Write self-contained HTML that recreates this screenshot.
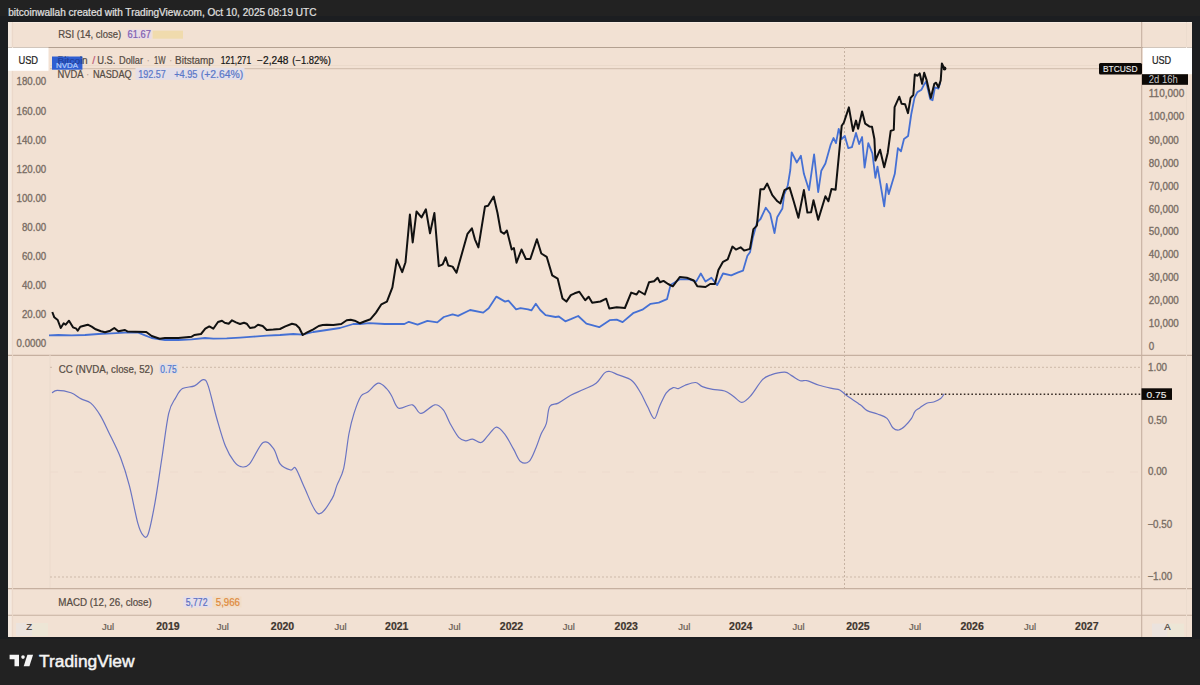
<!DOCTYPE html>
<html><head><meta charset="utf-8"><style>
html,body{margin:0;padding:0;background:#222222;width:1200px;height:685px;overflow:hidden}
svg{display:block;font-family:"Liberation Sans",sans-serif}
</style></head><body>
<svg width="1200" height="685" viewBox="0 0 1200 685">
<rect width="1200" height="685" fill="#222222"/>
<rect x="0" y="16" width="1200" height="623" fill="#1c1e21"/>
<text x="8.2" y="15.6" font-size="10" fill="#e0e0e0" font-weight="normal" textLength="308.3" lengthAdjust="spacingAndGlyphs" xml:space="preserve" stroke="#e0e0e0" stroke-width="0.22">bitcoinwallah created with TradingView.com, Oct 10, 2025 08:19 UTC</text>
<rect x="8" y="22" width="1184" height="615" fill="#f2e1d3"/>
<line x1="8" y1="22.5" x2="1192" y2="22.5" stroke="#f7ebe1" stroke-width="1"/>
<rect x="8" y="22" width="3.5" height="615" fill="#f4e9e0"/>
<line x1="8" y1="47.5" x2="1192" y2="47.5" stroke="#b3a090" stroke-width="1.1"/>
<line x1="8" y1="355.4" x2="1192" y2="355.4" stroke="#c6b0a0" stroke-width="1.1"/>
<line x1="8" y1="588.6" x2="1192" y2="588.6" stroke="#c6b0a0" stroke-width="1.1"/>
<line x1="8" y1="615.3" x2="1192" y2="615.3" stroke="#c6b0a0" stroke-width="1.1"/>
<line x1="1141.7" y1="22" x2="1141.7" y2="637" stroke="#c6b0a0" stroke-width="1.1"/>
<line x1="50" y1="355" x2="50" y2="588" stroke="#ebdacc" stroke-width="1"/>
<line x1="12.6" y1="22" x2="12.6" y2="637" stroke="#ead8c9" stroke-width="1"/>
<line x1="1186.5" y1="22" x2="1186.5" y2="637" stroke="#ecdcce" stroke-width="1"/>
<line x1="50" y1="367.3" x2="1142" y2="367.3" stroke="#cdb9a9" stroke-width="1" stroke-dasharray="2,2"/>
<line x1="50" y1="577" x2="1142" y2="577" stroke="#cdb9a9" stroke-width="1" stroke-dasharray="2,2"/>
<line x1="50" y1="472" x2="1142" y2="472" stroke="#eddacd" stroke-width="1" stroke-dasharray="8,16"/>
<line x1="50" y1="68.6" x2="1142" y2="68.6" stroke="#d5c2b2" stroke-width="1.1"/>
<line x1="50" y1="65.5" x2="1142" y2="65.5" stroke="#ebdacb" stroke-width="1"/>
<line x1="844.5" y1="47" x2="844.5" y2="588" stroke="#c6b2a2" stroke-width="1" stroke-dasharray="2,2"/>
<line x1="846" y1="394.3" x2="1142" y2="394.3" stroke="#3a2f28" stroke-width="1.4" stroke-dasharray="1.6,2.2"/>
<polyline points="49.0,335.3 58.3,335.0 71.7,335.3 85.0,335.0 98.3,334.0 111.7,333.3 125.0,332.7 138.3,332.7 145.0,335.3 151.7,338.0 165.0,340.0 178.3,340.0 191.7,339.3 205.0,338.0 213.3,338.7 226.7,338.4 240.0,337.6 253.3,336.7 266.7,335.7 280.0,335.0 293.3,334.0 302.7,334.7 313.3,332.0 326.7,330.0 340.0,328.0 353.3,324.0 360.0,324.0 369.4,323.1 384.7,324.0 404.4,324.0 408.8,321.8 417.6,324.6 427.4,320.9 437.3,322.4 443.8,317.0 452.6,314.3 458.1,315.9 470.1,310.0 483.2,312.6 488.7,308.2 496.4,296.6 505.1,301.6 508.4,300.6 516.1,309.3 520.5,308.2 528.1,309.3 531.4,310.4 535.8,303.8 540.2,310.0 545.6,315.2 555.5,317.0 558.8,316.5 565.3,321.3 570.8,319.2 578.2,316.0 586.4,323.7 599.2,327.2 609.7,320.2 616.7,319.7 622.6,322.1 633.1,313.2 642.4,309.7 650.6,303.8 658.8,302.7 667.0,299.2 670.5,285.1 679.8,279.3 689.2,279.3 696.2,281.6 700.8,273.5 705.5,281.6 711.4,277.7 717.2,285.1 723.0,273.5 731.2,275.3 738.2,272.3 743.0,270.7 747.4,255.8 750.0,252.3 752.7,238.3 757.0,222.5 760.5,219.0 765.8,207.7 770.2,213.8 774.5,233.0 777.2,217.3 782.4,208.5 784.2,194.5 787.7,185.8 790.3,170.0 791.7,152.3 796.8,162.5 800.9,155.8 803.9,173.8 809.0,190.1 814.1,154.4 818.2,192.1 821.3,170.7 825.4,163.5 830.5,145.2 833.5,138.0 836.0,143.1 838.7,128.8 841.7,139.0 844.8,136.0 848.3,148.2 851.9,147.2 856.0,132.9 859.1,144.1 862.1,137.0 864.6,167.6 868.3,143.1 872.4,153.3 875.4,177.8 877.5,166.6 884.2,206.4 886.7,184.0 888.7,194.2 894.8,173.8 897.9,148.2 901.0,151.3 904.0,139.0 908.1,136.0 911.2,114.5 914.5,97.9 917.4,92.1 921.5,89.7 923.8,85.0 926.1,81.5 930.2,99.1 932.6,100.2 934.9,87.4 938.4,88.6 940.2,82.7" fill="none" stroke="#4570d4" stroke-width="1.8" stroke-linejoin="round"/>
<polyline points="52.3,312.0 54.3,317.3 57.7,320.0 60.7,328.0 63.7,323.3 65.7,324.7 69.0,320.7 73.0,327.3 76.3,328.7 77.7,330.7 80.3,326.7 87.7,324.7 91.7,326.7 95.7,329.3 101.0,331.3 105.0,332.3 110.3,330.7 114.3,328.0 118.3,331.3 125.0,330.0 127.7,331.6 135.7,331.7 146.3,332.0 151.7,336.0 159.7,338.7 165.0,338.0 178.3,338.0 191.7,336.7 194.3,335.0 201.0,334.0 205.3,328.7 209.3,326.4 213.3,328.7 218.0,322.0 222.0,320.7 224.7,322.7 228.7,323.7 232.0,320.3 236.0,322.4 240.0,324.0 244.0,322.7 246.7,323.7 250.0,328.0 254.7,327.3 258.0,324.7 262.7,326.0 266.7,330.0 273.3,329.6 280.0,329.0 285.3,326.4 292.0,323.7 296.0,324.7 299.3,328.0 302.7,335.0 306.7,332.7 313.3,329.3 318.7,326.0 322.7,325.0 326.7,324.7 333.3,325.0 341.3,324.0 346.7,320.3 350.7,319.7 354.7,320.7 360.0,323.3 365.0,321.3 370.5,319.2 376.0,312.6 381.4,304.3 386.9,301.6 392.4,287.4 396.8,259.6 402.2,272.1 405.5,262.2 409.9,214.5 412.7,242.5 416.5,211.5 421.5,217.4 425.9,209.3 430.0,233.3 434.4,213.0 438.8,266.2 442.7,264.4 445.6,257.4 448.2,265.5 452.6,266.6 456.5,272.7 461.3,255.7 467.5,233.8 471.9,228.3 474.9,239.3 478.4,247.4 485.0,206.4 488.1,205.8 493.7,196.6 497.5,213.0 500.8,231.6 504.0,233.8 506.9,230.5 511.7,249.5 513.9,248.0 516.5,262.7 521.5,249.5 525.9,259.0 530.3,259.0 536.9,239.3 541.3,253.5 546.7,256.8 552.2,275.4 557.7,278.7 562.5,298.4 566.4,301.6 570.8,295.1 574.7,293.3 579.3,291.7 585.2,300.3 588.7,296.8 592.2,302.7 600.4,301.5 606.2,298.7 609.3,308.5 616.7,307.3 624.9,308.0 631.2,292.6 636.6,294.5 638.9,291.0 644.8,294.5 649.0,282.3 654.1,281.2 657.6,277.7 660.0,282.3 663.5,280.9 668.1,284.0 672.8,286.3 679.8,277.0 686.8,277.7 693.8,280.5 697.3,286.3 705.5,287.0 710.2,284.0 714.9,284.0 718.4,270.0 723.0,261.8 727.7,259.4 732.4,246.6 735.9,249.6 740.6,247.3 744.1,250.6 749.9,248.9 753.4,229.1 756.9,225.6 760.4,189.3 763.9,189.3 767.2,183.6 772.3,195.2 777.4,201.3 780.4,203.4 784.5,190.1 789.6,187.6 793.7,201.3 798.4,217.7 803.9,190.1 807.4,212.6 811.1,212.2 813.5,200.3 818.2,219.7 825.4,196.2 828.4,201.3 831.5,189.1 835.6,189.7 838.7,157.4 841.7,125.8 843.8,122.7 848.9,107.4 853.0,130.9 856.0,120.6 858.1,128.8 862.1,111.5 865.2,123.7 869.3,126.4 872.0,126.8 874.4,139.0 875.4,160.5 880.1,149.7 884.2,167.2 887.7,152.9 890.7,130.9 893.8,129.8 894.6,107.2 899.3,96.7 901.6,103.7 905.1,104.3 908.0,113.1 910.6,97.9 913.3,95.0 914.8,74.5 917.4,75.7 919.7,73.4 922.1,83.9 924.2,72.8 926.7,80.4 930.8,97.9 934.3,83.9 936.1,82.7 938.4,87.4 940.7,80.4 941.9,63.4 943.7,67.5 945.4,68.1" fill="none" stroke="#111" stroke-width="2" stroke-linejoin="round"/>
<path d="M52.0,392.8 C52.9,392.4 54.1,390.4 57.2,390.4 C60.4,390.4 66.9,391.4 70.9,392.8 C74.9,394.2 77.9,397.2 81.2,398.9 C84.5,400.6 87.7,400.4 90.8,403.1 C93.9,405.8 97.1,410.2 100.1,415.1 C103.1,420.0 105.3,425.1 108.7,432.2 C112.1,439.3 117.3,449.1 120.7,458.0 C124.1,466.9 126.5,474.5 129.3,485.4 C132.2,496.3 135.5,514.9 137.8,523.2 C140.1,531.5 141.3,533.4 143.0,535.2 C144.7,537.0 146.1,539.6 148.1,534.2 C150.1,528.8 152.7,515.3 155.0,502.6 C157.3,489.9 159.6,472.9 161.9,458.0 C164.2,443.1 166.4,423.4 168.7,413.4 C171.0,403.4 173.3,402.0 175.6,397.9 C177.9,393.8 179.3,390.6 182.5,388.6 C185.7,386.6 191.1,387.4 194.5,385.9 C197.9,384.4 200.8,379.7 203.1,379.7 C205.4,379.7 205.9,379.4 208.2,385.9 C210.5,392.4 213.9,408.5 216.8,418.5 C219.7,428.5 222.5,438.9 225.4,446.0 C228.3,453.1 231.4,458.0 234.0,461.4 C236.6,464.8 238.2,466.1 240.8,466.6 C243.4,467.1 245.7,468.2 249.4,464.2 C253.1,460.2 259.1,445.1 263.1,442.5 C267.1,439.9 270.5,444.8 273.4,448.4 C276.3,452.0 277.4,460.6 280.3,464.2 C283.2,467.8 288.0,469.3 290.6,470.0 C293.2,470.7 293.4,465.4 295.7,468.3 C298.0,471.2 300.6,479.6 304.3,487.2 C308.0,494.8 313.5,511.6 318.1,513.6 C322.7,515.6 328.7,503.9 331.8,499.2 C334.9,494.5 334.9,490.5 336.9,485.4 C338.9,480.2 341.7,476.9 343.7,468.3 C345.7,459.7 347.2,443.1 348.9,434.0 C350.6,424.9 352.0,419.7 354.0,413.4 C356.0,407.1 358.6,399.8 360.9,396.2 C363.2,392.6 364.9,394.3 367.8,392.1 C370.7,389.9 375.0,383.8 378.1,383.2 C381.2,382.6 384.3,386.4 386.6,388.6 C388.9,390.8 389.8,392.9 391.8,396.2 C393.8,399.5 395.3,406.8 398.7,408.2 C402.1,409.6 408.7,403.9 412.4,404.8 C416.1,405.7 417.3,413.4 421.0,413.4 C424.7,413.4 431.0,405.4 434.7,404.8 C438.4,404.2 440.7,406.8 443.3,409.9 C445.9,413.0 447.6,419.1 450.2,423.7 C452.8,428.3 456.1,434.5 458.7,437.4 C461.3,440.2 463.3,440.5 465.6,440.8 C467.9,441.1 469.9,438.8 472.5,439.1 C475.1,439.4 478.4,443.1 481.0,442.5 C483.6,441.9 485.3,438.3 487.9,435.7 C490.5,433.1 493.6,427.3 496.5,427.1 C499.4,426.9 502.2,430.9 505.1,434.6 C508.0,438.3 511.1,444.9 513.7,449.4 C516.3,453.9 517.9,459.4 520.5,461.4 C523.1,463.4 526.5,463.7 529.1,461.4 C531.7,459.1 534.0,452.3 536.0,447.7 C538.0,443.1 539.4,438.0 541.1,434.0 C542.8,430.0 544.9,428.3 546.3,423.7 C547.7,419.1 547.7,409.9 549.7,406.5 C551.7,403.1 554.9,404.9 558.3,403.1 C561.7,401.3 566.0,397.8 570.3,395.5 C574.6,393.2 579.7,391.4 584.0,389.3 C588.3,387.2 592.7,385.9 596.1,383.2 C599.5,380.5 602.3,374.8 604.6,372.9 C606.9,370.9 607.5,371.2 609.8,371.5 C612.1,371.8 614.7,373.4 618.4,374.9 C622.1,376.4 628.3,377.7 632.0,380.7 C635.7,383.7 638.0,388.5 640.6,392.8 C643.2,397.1 645.2,402.2 647.5,406.5 C649.8,410.8 652.3,418.5 654.3,418.5 C656.3,418.5 657.5,410.8 659.5,406.5 C661.5,402.2 664.0,395.9 666.3,392.8 C668.6,389.7 671.2,388.3 673.2,387.6 C675.2,386.9 676.4,389.0 678.4,388.6 C680.4,388.2 682.4,386.2 685.2,385.2 C688.1,384.2 692.6,382.3 695.5,382.5 C698.4,382.7 699.5,385.5 702.4,386.6 C705.3,387.7 709.0,388.6 712.7,389.3 C716.4,390.0 721.3,389.9 724.7,391.0 C728.1,392.1 730.4,394.3 733.3,396.2 C736.2,398.1 739.0,402.4 741.9,402.4 C744.8,402.4 747.0,400.0 750.4,396.2 C753.8,392.4 759.1,383.2 762.5,379.7 C765.9,376.1 767.3,376.1 771.0,374.9 C774.7,373.6 781.4,372.1 784.8,372.2 C788.2,372.3 789.0,374.2 791.6,375.6 C794.2,377.0 797.6,379.9 800.2,380.7 C802.8,381.5 804.0,379.9 807.1,380.7 C810.2,381.4 814.8,383.9 819.1,385.2 C823.4,386.5 829.4,387.8 832.8,388.6 C836.2,389.4 837.4,388.9 839.7,390.0 C842.0,391.1 843.2,393.0 846.6,395.5 C850.0,398.0 856.9,402.3 860.3,404.8 C863.7,407.3 864.3,409.1 867.2,410.6 C870.1,412.1 874.2,412.7 877.5,414.0 C880.8,415.3 884.5,416.1 887.0,418.4 C889.5,420.7 890.8,425.8 892.8,427.7 C894.8,429.6 896.8,430.2 898.7,430.0 C900.7,429.8 902.4,428.4 904.5,426.5 C906.6,424.6 909.8,420.9 911.5,418.4 C913.2,415.9 913.6,413.1 915.0,411.4 C916.4,409.6 917.8,409.3 919.7,407.9 C921.7,406.5 924.4,404.2 926.7,403.2 C929.0,402.2 931.4,402.8 933.7,402.0 C936.0,401.2 939.0,399.9 940.7,398.5 C942.5,397.1 943.6,394.7 944.2,393.9" fill="none" stroke="#6a74c2" stroke-width="1.2"/>
<circle cx="944.5" cy="68.5" r="1.9" fill="#111"/>
<text x="1148.8" y="97.0" font-size="10.3" fill="#786c63" font-weight="normal" textLength="35.44" lengthAdjust="spacingAndGlyphs" xml:space="preserve" stroke="#786c63" stroke-width="0.32">110,000</text>
<text x="1148.8" y="120.4" font-size="10.3" fill="#786c63" font-weight="normal" textLength="35.44" lengthAdjust="spacingAndGlyphs" xml:space="preserve" stroke="#786c63" stroke-width="0.32">100,000</text>
<text x="1148.8" y="143.79999999999998" font-size="10.3" fill="#786c63" font-weight="normal" textLength="29.99" lengthAdjust="spacingAndGlyphs" xml:space="preserve" stroke="#786c63" stroke-width="0.32">90,000</text>
<text x="1148.8" y="166.79999999999998" font-size="10.3" fill="#786c63" font-weight="normal" textLength="29.99" lengthAdjust="spacingAndGlyphs" xml:space="preserve" stroke="#786c63" stroke-width="0.32">80,000</text>
<text x="1148.8" y="189.7" font-size="10.3" fill="#786c63" font-weight="normal" textLength="29.99" lengthAdjust="spacingAndGlyphs" xml:space="preserve" stroke="#786c63" stroke-width="0.32">70,000</text>
<text x="1148.8" y="212.5" font-size="10.3" fill="#786c63" font-weight="normal" textLength="29.99" lengthAdjust="spacingAndGlyphs" xml:space="preserve" stroke="#786c63" stroke-width="0.32">60,000</text>
<text x="1148.8" y="235.39999999999998" font-size="10.3" fill="#786c63" font-weight="normal" textLength="29.99" lengthAdjust="spacingAndGlyphs" xml:space="preserve" stroke="#786c63" stroke-width="0.32">50,000</text>
<text x="1148.8" y="258.2" font-size="10.3" fill="#786c63" font-weight="normal" textLength="29.99" lengthAdjust="spacingAndGlyphs" xml:space="preserve" stroke="#786c63" stroke-width="0.32">40,000</text>
<text x="1148.8" y="281.2" font-size="10.3" fill="#786c63" font-weight="normal" textLength="29.99" lengthAdjust="spacingAndGlyphs" xml:space="preserve" stroke="#786c63" stroke-width="0.32">30,000</text>
<text x="1148.8" y="304.2" font-size="10.3" fill="#786c63" font-weight="normal" textLength="29.99" lengthAdjust="spacingAndGlyphs" xml:space="preserve" stroke="#786c63" stroke-width="0.32">20,000</text>
<text x="1148.8" y="327.2" font-size="10.3" fill="#786c63" font-weight="normal" textLength="29.99" lengthAdjust="spacingAndGlyphs" xml:space="preserve" stroke="#786c63" stroke-width="0.32">10,000</text>
<text x="1148.8" y="350.2" font-size="10.3" fill="#786c63" font-weight="normal" textLength="5.45" lengthAdjust="spacingAndGlyphs" xml:space="preserve" stroke="#786c63" stroke-width="0.32">0</text>
<text x="16.59" y="85.39999999999999" font-size="10.3" fill="#786c63" font-weight="normal" textLength="29.61" lengthAdjust="spacingAndGlyphs" xml:space="preserve" stroke="#786c63" stroke-width="0.32">180.00</text>
<text x="16.59" y="114.5" font-size="10.3" fill="#786c63" font-weight="normal" textLength="29.61" lengthAdjust="spacingAndGlyphs" xml:space="preserve" stroke="#786c63" stroke-width="0.32">160.00</text>
<text x="16.59" y="143.6" font-size="10.3" fill="#786c63" font-weight="normal" textLength="29.61" lengthAdjust="spacingAndGlyphs" xml:space="preserve" stroke="#786c63" stroke-width="0.32">140.00</text>
<text x="16.59" y="172.7" font-size="10.3" fill="#786c63" font-weight="normal" textLength="29.61" lengthAdjust="spacingAndGlyphs" xml:space="preserve" stroke="#786c63" stroke-width="0.32">120.00</text>
<text x="16.59" y="201.79999999999998" font-size="10.3" fill="#786c63" font-weight="normal" textLength="29.61" lengthAdjust="spacingAndGlyphs" xml:space="preserve" stroke="#786c63" stroke-width="0.32">100.00</text>
<text x="21.98" y="230.9" font-size="10.3" fill="#786c63" font-weight="normal" textLength="24.22" lengthAdjust="spacingAndGlyphs" xml:space="preserve" stroke="#786c63" stroke-width="0.32">80.00</text>
<text x="21.98" y="260.0" font-size="10.3" fill="#786c63" font-weight="normal" textLength="24.22" lengthAdjust="spacingAndGlyphs" xml:space="preserve" stroke="#786c63" stroke-width="0.32">60.00</text>
<text x="21.98" y="289.1" font-size="10.3" fill="#786c63" font-weight="normal" textLength="24.22" lengthAdjust="spacingAndGlyphs" xml:space="preserve" stroke="#786c63" stroke-width="0.32">40.00</text>
<text x="21.98" y="318.20000000000005" font-size="10.3" fill="#786c63" font-weight="normal" textLength="24.22" lengthAdjust="spacingAndGlyphs" xml:space="preserve" stroke="#786c63" stroke-width="0.32">20.00</text>
<text x="16.59" y="347.40000000000003" font-size="10.3" fill="#786c63" font-weight="normal" textLength="29.61" lengthAdjust="spacingAndGlyphs" xml:space="preserve" stroke="#786c63" stroke-width="0.32">0.0000</text>
<text x="1148" y="370.90000000000003" font-size="10.3" fill="#786c63" font-weight="normal" textLength="19.08" lengthAdjust="spacingAndGlyphs" xml:space="preserve" stroke="#786c63" stroke-width="0.32">1.00</text>
<text x="1148" y="423.6" font-size="10.3" fill="#786c63" font-weight="normal" textLength="19.08" lengthAdjust="spacingAndGlyphs" xml:space="preserve" stroke="#786c63" stroke-width="0.32">0.50</text>
<text x="1148" y="475.40000000000003" font-size="10.3" fill="#786c63" font-weight="normal" textLength="19.08" lengthAdjust="spacingAndGlyphs" xml:space="preserve" stroke="#786c63" stroke-width="0.32">0.00</text>
<text x="1147.4" y="527.9" font-size="10.3" fill="#786c63" font-weight="normal" textLength="24.81" lengthAdjust="spacingAndGlyphs" xml:space="preserve" stroke="#786c63" stroke-width="0.32">−0.50</text>
<text x="1147.4" y="580.4" font-size="10.3" fill="#786c63" font-weight="normal" textLength="24.81" lengthAdjust="spacingAndGlyphs" xml:space="preserve" stroke="#786c63" stroke-width="0.32">−1.00</text>
<text x="108.1" y="629.7" font-size="9.5" fill="#6a5e55" font-weight="normal" text-anchor="middle"  stroke="#6a5e55" stroke-width="0.22">Jul</text>
<text x="167.9" y="630.1" font-size="10.5" fill="#3e352e" font-weight="bold" text-anchor="middle"  stroke="#3e352e" stroke-width="0.22">2019</text>
<text x="222.9" y="629.7" font-size="9.5" fill="#6a5e55" font-weight="normal" text-anchor="middle"  stroke="#6a5e55" stroke-width="0.22">Jul</text>
<text x="282.5" y="630.1" font-size="10.5" fill="#3e352e" font-weight="bold" text-anchor="middle"  stroke="#3e352e" stroke-width="0.22">2020</text>
<text x="340.6" y="629.7" font-size="9.5" fill="#6a5e55" font-weight="normal" text-anchor="middle"  stroke="#6a5e55" stroke-width="0.22">Jul</text>
<text x="396.75" y="630.1" font-size="10.5" fill="#3e352e" font-weight="bold" text-anchor="middle"  stroke="#3e352e" stroke-width="0.22">2021</text>
<text x="454.6" y="629.7" font-size="9.5" fill="#6a5e55" font-weight="normal" text-anchor="middle"  stroke="#6a5e55" stroke-width="0.22">Jul</text>
<text x="511.5" y="630.1" font-size="10.5" fill="#3e352e" font-weight="bold" text-anchor="middle"  stroke="#3e352e" stroke-width="0.22">2022</text>
<text x="568.75" y="629.7" font-size="9.5" fill="#6a5e55" font-weight="normal" text-anchor="middle"  stroke="#6a5e55" stroke-width="0.22">Jul</text>
<text x="626.25" y="630.1" font-size="10.5" fill="#3e352e" font-weight="bold" text-anchor="middle"  stroke="#3e352e" stroke-width="0.22">2023</text>
<text x="684.4" y="629.7" font-size="9.5" fill="#6a5e55" font-weight="normal" text-anchor="middle"  stroke="#6a5e55" stroke-width="0.22">Jul</text>
<text x="740.75" y="630.1" font-size="10.5" fill="#3e352e" font-weight="bold" text-anchor="middle"  stroke="#3e352e" stroke-width="0.22">2024</text>
<text x="798.5" y="629.7" font-size="9.5" fill="#6a5e55" font-weight="normal" text-anchor="middle"  stroke="#6a5e55" stroke-width="0.22">Jul</text>
<text x="857.9" y="630.1" font-size="10.5" fill="#3e352e" font-weight="bold" text-anchor="middle"  stroke="#3e352e" stroke-width="0.22">2025</text>
<text x="915" y="629.7" font-size="9.5" fill="#6a5e55" font-weight="normal" text-anchor="middle"  stroke="#6a5e55" stroke-width="0.22">Jul</text>
<text x="972.1" y="630.1" font-size="10.5" fill="#3e352e" font-weight="bold" text-anchor="middle"  stroke="#3e352e" stroke-width="0.22">2026</text>
<text x="1030" y="629.7" font-size="9.5" fill="#6a5e55" font-weight="normal" text-anchor="middle"  stroke="#6a5e55" stroke-width="0.22">Jul</text>
<text x="1086.8" y="630.1" font-size="10.5" fill="#3e352e" font-weight="bold" text-anchor="middle"  stroke="#3e352e" stroke-width="0.22">2027</text>
<rect x="16" y="623" width="16" height="13" fill="#ebe3de"/>
<rect x="32" y="623" width="16" height="13" fill="#ede6d6"/>
<text x="29.2" y="630" font-size="9.5" fill="#4a4038" font-weight="normal" text-anchor="middle"  stroke="#4a4038" stroke-width="0.22">Z</text>
<rect x="1152" y="623.6" width="15.5" height="13.2" fill="#ebe3de"/>
<rect x="1167.5" y="623.6" width="16.5" height="13.2" fill="#ede6d6"/>
<text x="1167.5" y="630" font-size="9.5" fill="#4a4038" font-weight="normal" text-anchor="middle"  stroke="#4a4038" stroke-width="0.22">A</text>
<rect x="8" y="47.6" width="40.5" height="23.2" fill="#ffffff"/>
<text x="18.4" y="64.4" font-size="10.8" fill="#1e1e1e" font-weight="normal" textLength="19.7" lengthAdjust="spacingAndGlyphs" xml:space="preserve" stroke="#1e1e1e" stroke-width="0.22">USD</text>
<rect x="1142.8" y="47.6" width="49.2" height="26.6" fill="#ffffff"/>
<text x="1151.9" y="64.4" font-size="10.8" fill="#1e1e1e" font-weight="normal" textLength="19.3" lengthAdjust="spacingAndGlyphs" xml:space="preserve" stroke="#1e1e1e" stroke-width="0.22">USD</text>
<rect x="1142" y="74.2" width="46" height="10.6" fill="#0d0906"/>
<text x="1148.8" y="82.6" font-size="10" fill="#c8c8c8" font-weight="normal" textLength="29" lengthAdjust="spacingAndGlyphs" xml:space="preserve">2d 16h</text>
<rect x="1099" y="63" width="43" height="11.4" rx="1.5" fill="#0d0906"/>
<text x="1103" y="71.8" font-size="9.4" fill="#f0f0f0" font-weight="normal" textLength="34.5" lengthAdjust="spacingAndGlyphs" xml:space="preserve" stroke="#f0f0f0" stroke-width="0.1">BTCUSD</text>
<rect x="1141.5" y="388.3" width="30.5" height="11.6" fill="#0d0906"/>
<text x="1146.5" y="397.8" font-size="9.8" fill="#f0f0f0" font-weight="normal" textLength="20" lengthAdjust="spacingAndGlyphs" xml:space="preserve" stroke="#f0f0f0" stroke-width="0.1">0.75</text>
<text x="58.2" y="38.2" font-size="10" fill="#564c44" font-weight="normal" textLength="63" lengthAdjust="spacingAndGlyphs" xml:space="preserve" stroke="#564c44" stroke-width="0.22">RSI (14, close)</text>
<rect x="127" y="29.5" width="24.5" height="9.5" fill="#eadce4"/>
<text x="127.6" y="38.2" font-size="10" fill="#8160b0" font-weight="normal" textLength="23.4" lengthAdjust="spacingAndGlyphs" xml:space="preserve" stroke="#8160b0" stroke-width="0.22">61.67</text>
<rect x="152.7" y="30.7" width="30.3" height="8" fill="#efd9a4" opacity="0.8"/>
<text x="57.5" y="63.9" font-size="10" fill="#564c44" font-weight="normal" textLength="30" lengthAdjust="spacingAndGlyphs" xml:space="preserve" stroke="#564c44" stroke-width="0.22">Bitcoin</text>
<text x="92.2" y="63.9" font-size="10" fill="#c0607a" font-weight="normal" textLength="3" lengthAdjust="spacingAndGlyphs" xml:space="preserve" stroke="#c0607a" stroke-width="0.22">/</text>
<text x="97.2" y="63.9" font-size="10" fill="#564c44" font-weight="normal" textLength="18.2" lengthAdjust="spacingAndGlyphs" xml:space="preserve" stroke="#564c44" stroke-width="0.22">U.S.</text>
<text x="119" y="63.9" font-size="10" fill="#564c44" font-weight="normal" textLength="24" lengthAdjust="spacingAndGlyphs" xml:space="preserve" stroke="#564c44" stroke-width="0.22">Dollar</text>
<text x="146.9" y="63.9" font-size="10" fill="#b09a8a" font-weight="normal" textLength="2.4" lengthAdjust="spacingAndGlyphs" xml:space="preserve" stroke="#b09a8a" stroke-width="0.22">·</text>
<text x="154" y="63.9" font-size="10" fill="#564c44" font-weight="normal" textLength="11.6" lengthAdjust="spacingAndGlyphs" xml:space="preserve" stroke="#564c44" stroke-width="0.22">1W</text>
<text x="169.5" y="63.9" font-size="10" fill="#b09a8a" font-weight="normal" textLength="2.4" lengthAdjust="spacingAndGlyphs" xml:space="preserve" stroke="#b09a8a" stroke-width="0.22">·</text>
<text x="175.1" y="63.9" font-size="10" fill="#564c44" font-weight="normal" textLength="38.7" lengthAdjust="spacingAndGlyphs" xml:space="preserve" stroke="#564c44" stroke-width="0.22">Bitstamp</text>
<text x="220.8" y="63.9" font-size="10" fill="#141414" font-weight="normal" textLength="30.4" lengthAdjust="spacingAndGlyphs" xml:space="preserve" stroke="#141414" stroke-width="0.22">121,271</text>
<text x="257.1" y="63.9" font-size="10" fill="#141414" font-weight="normal" textLength="31.4" lengthAdjust="spacingAndGlyphs" xml:space="preserve" stroke="#141414" stroke-width="0.22">−2,248</text>
<text x="292.3" y="63.9" font-size="10" fill="#141414" font-weight="normal" textLength="38.5" lengthAdjust="spacingAndGlyphs" xml:space="preserve" stroke="#141414" stroke-width="0.22">(−1.82%)</text>
<rect x="135.5" y="67.8" width="109" height="12" fill="#e4dfe8"/>
<text x="57.6" y="77.6" font-size="10" fill="#564c44" font-weight="normal" textLength="26" lengthAdjust="spacingAndGlyphs" xml:space="preserve" stroke="#564c44" stroke-width="0.22">NVDA</text>
<text x="86.4" y="77.6" font-size="10" fill="#b09a8a" font-weight="normal" textLength="2.4" lengthAdjust="spacingAndGlyphs" xml:space="preserve" stroke="#b09a8a" stroke-width="0.22">·</text>
<text x="93" y="77.6" font-size="10" fill="#564c44" font-weight="normal" textLength="38.7" lengthAdjust="spacingAndGlyphs" xml:space="preserve" stroke="#564c44" stroke-width="0.22">NASDAQ</text>
<text x="138.3" y="77.6" font-size="10" fill="#5a78c8" font-weight="normal" textLength="27.5" lengthAdjust="spacingAndGlyphs" xml:space="preserve" stroke="#5a78c8" stroke-width="0.22">192.57</text>
<text x="174.2" y="77.6" font-size="10" fill="#5a78c8" font-weight="normal" textLength="23.3" lengthAdjust="spacingAndGlyphs" xml:space="preserve" stroke="#5a78c8" stroke-width="0.22">+4.95</text>
<text x="200.8" y="77.6" font-size="10" fill="#5a78c8" font-weight="normal" textLength="42.5" lengthAdjust="spacingAndGlyphs" xml:space="preserve" stroke="#5a78c8" stroke-width="0.22">(+2.64%)</text>
<rect x="52" y="56.5" width="30.4" height="13.2" fill="#2f5fd2"/>
<text x="57.5" y="63.9" font-size="9" fill="#22409a" font-weight="normal" textLength="25" lengthAdjust="spacingAndGlyphs" xml:space="preserve" stroke="#22409a" stroke-width="0.22">Bitcoi</text>
<text x="56" y="68.4" font-size="7.5" fill="#b5cdfa" font-weight="normal" textLength="22" lengthAdjust="spacingAndGlyphs" xml:space="preserve" stroke="#b5cdfa" stroke-width="0.22">NVDA</text>
<rect x="54" y="362" width="126" height="14" fill="#f2e1d3"/>
<text x="58.75" y="372.5" font-size="10" fill="#564c44" font-weight="normal" textLength="94.5" lengthAdjust="spacingAndGlyphs" xml:space="preserve" stroke="#564c44" stroke-width="0.22">CC (NVDA, close, 52)</text>
<rect x="159" y="363.5" width="19" height="10" fill="#e2dde3"/>
<text x="160.3" y="372.5" font-size="10" fill="#4f78cf" font-weight="normal" textLength="16.3" lengthAdjust="spacingAndGlyphs" xml:space="preserve" stroke="#4f78cf" stroke-width="0.22">0.75</text>
<text x="58.3" y="605.5" font-size="10" fill="#564c44" font-weight="normal" textLength="93.4" lengthAdjust="spacingAndGlyphs" xml:space="preserve" stroke="#564c44" stroke-width="0.22">MACD (12, 26, close)</text>
<rect x="183.3" y="596.5" width="29" height="11" fill="#e6dfe8"/>
<rect x="212.5" y="596.5" width="29" height="11" fill="#f1ddc8"/>
<text x="185.8" y="605.5" font-size="10" fill="#5b6fc4" font-weight="normal" textLength="21.7" lengthAdjust="spacingAndGlyphs" xml:space="preserve" stroke="#5b6fc4" stroke-width="0.22">5,772</text>
<text x="215.8" y="605.5" font-size="10" fill="#e08a3c" font-weight="normal" textLength="24.2" lengthAdjust="spacingAndGlyphs" xml:space="preserve" stroke="#e08a3c" stroke-width="0.22">5,966</text>
<path d="M9.6,654.8 H19 V666.2 H14.5 V659.2 H9.6 Z" fill="#f4f4f4"/>
<circle cx="23" cy="657.1" r="1.8" fill="#f4f4f4"/>
<path d="M27.4,654.8 H33.1 L29.4,666.2 H23.7 Z" fill="#f4f4f4"/>
<text x="39" y="667" font-size="16" font-weight="normal" fill="#f4f4f4" stroke="#f4f4f4" stroke-width="0.45" textLength="95.5" lengthAdjust="spacingAndGlyphs">TradingView</text>
</svg>
</body></html>
